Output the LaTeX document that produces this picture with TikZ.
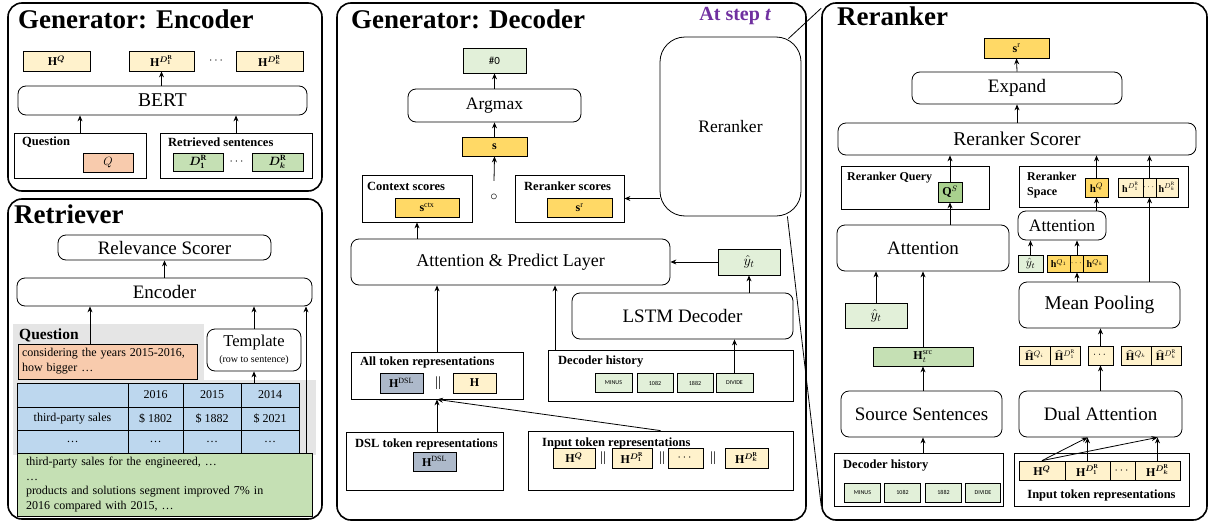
\documentclass[tikz,border=0pt]{standalone}
\usepackage{amsmath}
\usepackage{fontspec}
\usepackage{bm}
\setmainfont{Liberation Serif}
\newfontfamily\tokfont{Carlito}
\usetikzlibrary{arrows.meta,positioning,calc}
\definecolor{lightyellow}{RGB}{255,242,204}
\definecolor{goldcolor}{RGB}{255,217,102}
\definecolor{salmoncolor}{RGB}{248,203,173}
\definecolor{greencolor}{RGB}{197,224,180}
\definecolor{lightgreen}{RGB}{226,240,217}
\definecolor{midgreen}{RGB}{169,209,142}
\definecolor{tablecolor}{RGB}{189,215,238}
\definecolor{dslcolor}{RGB}{173,185,202}
\definecolor{stepcolor}{RGB}{112,48,160}
\newcommand{\fsz}[1]{\fontsize{#1}{#1}\selectfont}
\newcommand{\HQ}{$\mathbf{H}^{\bm{Q}}$}
\newcommand{\HDo}{$\mathbf{H}^{\bm{D}_{\mathbf{1}}^{\mathbf{R}}}$}
\newcommand{\HDk}{$\mathbf{H}^{\bm{D}_{\bm{k}}^{\mathbf{R}}}$}

\begin{document}
\begin{tikzpicture}[x=1pt, y=-1pt,
    panel/.style={draw, line width=1.6pt, rounded corners=14pt, inner sep=0},
    heading/.style={anchor=base west, inner sep=0, font=\bfseries\fsz{27}},
    block/.style={draw, line width=0.8pt, rounded corners=8pt, inner sep=0, fill=white, font=\fsz{19}},
    rbox/.style={draw, line width=0.8pt, inner sep=0, fill=white},
    vec/.style={draw, line width=0.8pt, inner sep=0, minimum height=20pt, font=\fsz{12}},
    lbl/.style={anchor=west, inner sep=0, font=\bfseries\fsz{12.5}},
    tok/.style={draw, line width=0.6pt, fill=lightgreen, inner sep=0, minimum height=19pt, font=\tokfont\fsz{6}},
    cell/.style={draw, line width=0.8pt, fill=tablecolor, inner sep=0, font=\fsz{12}},
    arrow/.style={-{Stealth[length=6pt, width=5pt]}, line width=0.8pt}]

    \useasboundingbox (0,0) rectangle (1210,522);

    % Generator: Encoder
    \node[panel, minimum width=314pt, minimum height=188pt] (encpanel) at (165,97) {};
    \node[heading] (enctitle) at (18,28) {Generator: Encoder};
    \node[vec, fill=lightyellow, minimum width=67pt] (ehq) at (56.5,61) {\HQ};
    \node[vec, fill=lightyellow, minimum width=65pt] (ehd1) at (161.5,61) {\HDo};
    \node[font=\fsz{12}] (edots) at (217,61) {$\cdots$};
    \node[vec, fill=lightyellow, minimum width=67pt] (ehdk) at (269.5,61) {\HDk};
    \node[block, minimum width=289pt, minimum height=29pt, font=\fsz{19.5}] (bert) at (162.5,100.5) {BERT};
    \node[rbox, minimum width=132pt, minimum height=45pt] (equest) at (80,155.5) {};
    \node[lbl] (equestlbl) at (22,142) {Question};
    \node[vec, fill=salmoncolor, minimum width=50pt, minimum height=19pt] (eq) at (108,162.5) {$Q$};
    \node[rbox, minimum width=152pt, minimum height=45pt] (eret) at (236,155.5) {};
    \node[lbl] (eretlbl) at (168,142) {Retrieved sentences};
    \node[vec, fill=greencolor, minimum width=50pt, minimum height=18pt] (ed1) at (198,162) {$\bm{D}_{\mathbf{1}}^{\mathbf{R}}$};
    \node[font=\fsz{12}] (eddots) at (237.5,162) {$\cdots$};
    \node[vec, fill=greencolor, minimum width=51pt, minimum height=18pt] (edk) at (277.5,162) {$\bm{D}_{\bm{k}}^{\mathbf{R}}$};

    \draw[arrow] (equest.north) -- (equest.north |- bert.south);
    \draw[arrow] (eret.north) -- (eret.north |- bert.south);
    \draw[arrow] (ehd1.south |- bert.north) -- (ehd1.south);

    % Retriever
    \node[panel, minimum width=314pt, minimum height=320pt] (retpanel) at (165,359) {};
    \fill[black!10] (13,324) rectangle (204,380);
    \fill[black!10] (13,380) rectangle (316,455);
    \node[heading] (rettitle) at (14,223) {Retriever};
    \node[block, minimum width=213pt, minimum height=25pt] (relev) at (164.5,247.5) {Relevance Scorer};
    \node[block, minimum width=295pt, minimum height=28pt] (renc) at (164.5,292) {Encoder};
    \node[anchor=west, inner sep=0, font=\bfseries\fsz{15.5}] (rqlbl) at (19,335) {Question};
    \node[rbox, fill=salmoncolor, minimum width=179pt, minimum height=35pt, text width=171pt, align=left,
        font=\fontsize{12}{15}\selectfont] (rqtext) at (107.5,361.5) {considering the years 2015-2016,\\how bigger …};
    \node[block, minimum width=94pt, minimum height=42pt, align=center, font=\fsz{16.5}] (templ) at (254,350)
        {Template\\{\fsz{10}(row to sentence)}};

    % table
    \foreach \x/\w/\txt [count=\n] in {72.5/111/{},155.5/55/2016,212/58/2015,270/58/2014}
        \node[cell, minimum width=\w pt, minimum height=24pt] (ta\n) at (\x,395) {\txt};
    \foreach \x/\w/\txt [count=\n] in {72.5/111/third-party sales,155.5/55/\$ 1802,212/58/\$ 1882,270/58/\$ 2021}
        \node[cell, minimum width=\w pt, minimum height=23pt] (tb\n) at (\x,418.5) {\txt};
    \foreach \x/\w [count=\n] in {72.5/111,155.5/55,212/58,270/58}
        \node[cell, minimum width=\w pt, minimum height=24pt] (tc\n) at (\x,442) {…};

    \node[rbox, fill=greencolor, minimum width=295pt, minimum height=63pt, text width=277pt, align=left,
        font=\fontsize{12}{14.6}\selectfont] (rsent) at (164.5,484.5)
        {third-party sales for the engineered, …\\…\\products and solutions segment improved 7\% in\\2016 compared with 2015, …};

    \coordinate (rqx) at (90,0);
    \coordinate (rsx) at (306,0);
    \draw[arrow] (rqtext.north -| rqx) -- (renc.south -| rqx);
    \draw[arrow] (templ.north) -- (templ.north |- renc.south);
    \draw[arrow] (ta4.north -| templ.south) -- (templ.south);
    \draw[arrow] (rsent.north -| rsx) -- (renc.south -| rsx);
    \draw[arrow] (renc.north -| relev.south) -- (relev.south);

    % Generator: Decoder
    \node[panel, minimum width=469pt, minimum height=517pt] (decpanel) at (571.5,261.5) {};
    \node[heading] (dectitle) at (351,28) {Generator: Decoder};
    \node[font=\bfseries\fsz{20}, text=stepcolor, inner sep=0] (atstep) at (735,16) {At step {\itshape t}};
    \node[vec, fill=lightgreen, minimum width=63pt, minimum height=25pt, font=\tokfont\fsz{11}] (out0) at (494.5,60.5) {\#0};
    \node[block, minimum width=173pt, minimum height=33pt, font=\fsz{17.5}] (argmax) at (494.5,105.5) {Argmax};
    \node[vec, fill=goldcolor, minimum width=65pt, minimum height=19pt] (sbox) at (494.5,146.5) {$\mathbf{s}$};
    \node[inner sep=0, minimum height=32pt, font=\fsz{14}] (circ) at (494,197) {$\circ$};
    \node[rbox, minimum width=110pt, minimum height=47pt] (ctx) at (417,198.5) {};
    \node[lbl] (ctxlbl) at (367,186) {Context scores};
    \node[vec, fill=goldcolor, minimum width=64pt, minimum height=19pt] (sctx) at (427,207.5) {$\mathbf{s}^{\mathrm{ctx}}$};
    \node[rbox, minimum width=109pt, minimum height=47pt] (rrs) at (569.5,198.5) {};
    \node[lbl] (rrslbl) at (524,186) {Reranker scores};
    \node[vec, fill=goldcolor, minimum width=65pt, minimum height=19pt] (srr) at (579.5,207.5) {$\mathbf{s}^{\mathrm{r}}$};
    \node[block, rounded corners=25pt, minimum width=141pt, minimum height=179pt, font=\fsz{17.5}] (rrbig) at (730.5,126.5) {Reranker};
    \node[block, minimum width=319pt, minimum height=46pt, font=\fsz{18}] (attpred) at (510.5,262) {Attention \& Predict Layer};
    \node[vec, fill=lightgreen, minimum width=62pt, minimum height=26pt, font=\fsz{14}] (yhat) at (749,262) {$\hat{y}_t$};
    \node[block, minimum width=221pt, minimum height=46pt] (lstm) at (682.5,316) {LSTM Decoder};
    \node[rbox, minimum width=245pt, minimum height=51pt] (dhist) at (670.5,375.5) {};
    \node[lbl] (dhistlbl) at (558,362) {Decoder history};
    \foreach \x/\w/\txt [count=\n] in {613.5/37/MINUS,655/36/1082,695/36/1882,734.5/37/DIVIDE}
        \node[tok, minimum width=\w pt] (dt\n) at (\x,383) {\txt};
    \node[rbox, minimum width=172pt, minimum height=47pt] (alltok) at (437,375.5) {};
    \node[lbl] (alltoklbl) at (360,362) {All token representations};
    \node[vec, fill=dslcolor, minimum width=43pt] (hdsl) at (401.5,383) {$\mathbf{H}^{\mathrm{DSL}}$};
    \node[font=\fsz{14}] (bar1) at (438,383) {||};
    \node[vec, fill=lightyellow, minimum width=43pt] (hall) at (474.5,383) {$\mathbf{H}$};
    \node[rbox, minimum width=157pt, minimum height=58pt] (dsltok) at (424.5,461) {};
    \node[lbl] (dsltoklbl) at (355,444) {DSL token representations};
    \node[vec, fill=dslcolor, minimum width=43pt, minimum height=19pt] (hdsl2) at (434.5,461.5) {$\mathbf{H}^{\mathrm{DSL}}$};
    \node[rbox, minimum width=265pt, minimum height=59pt] (inptok) at (660.5,460.5) {};
    \node[lbl] (inptoklbl) at (542,443) {Input token representations};
    \node[vec, fill=lightyellow, minimum width=42pt] (dhq) at (574,458) {\HQ};
    \node[vec, fill=lightyellow, minimum width=40pt] (dhd1) at (632,458) {\HDo};
    \node[vec, fill=lightyellow, minimum width=35pt] (ddots) at (685.5,458) {$\cdots$};
    \node[vec, fill=lightyellow, minimum width=43pt] (dhdk) at (746.5,458) {\HDk};
    \foreach \x [count=\n] in {603,662,713}
        \node[font=\fsz{14}] (dbar\n) at (\x,458) {||};

    \coordinate (dhx) at (555,0);
    \draw[arrow] (argmax.north) -- (out0.south);
    \draw[arrow] (sbox.north) -- (argmax.south);
    \draw[arrow] (circ.north) -- (sbox.south);
    \draw[arrow] (rrbig.west |- rrs.east) -- (rrs.east);
    \draw[arrow] (ctx.south |- attpred.north) -- (ctx.south);
    \draw[arrow] (yhat.west) -- (attpred.east);
    \draw[arrow] (yhat.south |- lstm.north) -- (yhat.south);
    \draw[arrow] (dt4.north) -- (dt4.north |- lstm.south);
    \draw[arrow] (dhist.north -| dhx) -- (attpred.south -| dhx);
    \draw[arrow] (alltok.north) -- (alltok.north |- attpred.south);
    \draw[arrow] (dsltok.north -| alltok.south) -- (alltok.south);
    \draw[arrow] (inptok.north) -- (alltok.south);

    % Reranker
    \node[panel, minimum width=385pt, minimum height=517pt] (rrpanel) at (1014.5,261.5) {};
    \node[heading] (rrtitle) at (837,25) {Reranker};
    \node[vec, fill=goldcolor, minimum width=65pt, minimum height=20pt] (rsr) at (1016.5,48) {$\mathbf{s}^{\mathrm{r}}$};
    \node[block, minimum width=210pt, minimum height=32pt] (expand) at (1017,88) {Expand};
    \node[block, minimum width=358pt, minimum height=32pt, font=\fsz{19.5}] (scorer) at (1017,139) {Reranker Scorer};
    \node[rbox, minimum width=148pt, minimum height=43pt] (rquery) at (915,187.5) {};
    \node[lbl, font=\bfseries\fsz{12}] (rquerylbl) at (847,178) {Reranker Query};
    \node[vec, fill=midgreen, minimum width=24pt, minimum height=20pt] (qs) at (950,192) {$\mathbf{Q}^{S}$};
    \node[rbox, minimum width=169pt, minimum height=41pt] (rspace) at (1103.5,186.5) {};
    \node[lbl, font=\bfseries\fontsize{12}{15}\selectfont, align=left] (rspacelbl) at (1027,185) {Reranker\\Space};
    \node[vec, fill=goldcolor, minimum width=23pt, minimum height=19pt, font=\fsz{11}] (hqs) at (1096.5,187.5) {$\mathbf{h}^{Q}$};
    \node[vec, fill=lightyellow, minimum width=25pt, minimum height=19pt, font=\fsz{10}] (hs1) at (1130.5,187.5) {$\mathbf{h}^{D_1^{\mathrm{R}}}$};
    \node[vec, fill=lightyellow, minimum width=13pt, minimum height=19pt, font=\fsz{9}] (hs2) at (1149.5,187.5) {$\cdots$};
    \node[vec, fill=lightyellow, minimum width=22pt, minimum height=19pt, font=\fsz{10}] (hs3) at (1167,187.5) {$\mathbf{h}^{D_k^{\mathrm{R}}}$};
    \node[block, minimum width=88pt, minimum height=29pt, font=\fsz{17.5}] (att2) at (1062,225.5) {Attention};
    \node[vec, fill=lightgreen, minimum width=25pt, minimum height=17pt, font=\fsz{12}] (yhat2) at (1030.5,263.5) {$\hat{y}_t$};
    \node[vec, fill=goldcolor, minimum width=24pt, minimum height=17pt, font=\fsz{10}] (hq1) at (1059,263.5) {$\mathbf{h}^{Q_1}$};
    \node[vec, fill=goldcolor, minimum width=12pt, minimum height=17pt, font=\fsz{9}] (hq2) at (1077,263.5) {$\cdots$};
    \node[vec, fill=goldcolor, minimum width=24pt, minimum height=17pt, font=\fsz{10}] (hq3) at (1095,263.5) {$\mathbf{h}^{Q_k}$};
    \node[block, minimum width=161pt, minimum height=46pt, font=\fsz{19.5}] (mpool) at (1099.5,305) {Mean Pooling};
    \node[block, minimum width=172pt, minimum height=46pt] (att1) at (923,248) {Attention};
    \node[vec, fill=lightgreen, minimum width=62pt, minimum height=25pt, font=\fsz{14}] (yhat3) at (876,315.5) {$\hat{y}_t$};
    \node[vec, fill=greencolor, minimum width=100pt, minimum height=19pt] (hsrc) at (923,356.5) {$\mathbf{H}_t^{\mathrm{src}}$};
    \foreach \x/\w/\txt [count=\n] in {1034.5/31/{$\widehat{\mathbf{H}}^{Q_i}$},1065/30/{$\widehat{\mathbf{H}}^{D_1^{\mathrm{R}}}$},
            1100.5/25/{$\cdots$},1136/30/{$\widehat{\mathbf{H}}^{Q_k}$},1166/30/{$\widehat{\mathbf{H}}^{D_k^{\mathrm{R}}}$}}
        \node[vec, fill=lightyellow, minimum width=\w pt, minimum height=19pt, font=\fsz{11}] (hh\n) at (\x,355.5) {\txt};
    \node[block, minimum width=161pt, minimum height=46pt] (srcsent) at (921.5,414) {Source Sentences};
    \node[block, minimum width=163pt, minimum height=46pt] (dualatt) at (1100.5,414) {Dual Attention};
    \node[rbox, minimum width=169pt, minimum height=53pt] (dhist2) at (918.5,479.5) {};
    \node[lbl] (dhist2lbl) at (843,466) {Decoder history};
    \foreach \x/\w/\txt [count=\n] in {862.5/36/MINUS,902.5/36/1082,943.5/36/1882,983/35/DIVIDE}
        \node[tok, minimum width=\w pt] (rt\n) at (\x,492.5) {\txt};
    \node[rbox, minimum width=175pt, minimum height=53pt] (inptok2) at (1101.5,479.5) {};
    \foreach \x/\w/\txt [count=\n] in {1042/46/\HQ,1087.5/45/\HDo,1122.5/25/{$\cdots$},1157.5/45/\HDk}
        \node[vec, fill=lightyellow, minimum width=\w pt, minimum height=19pt] (ri\n) at (\x,470.5) {\txt};
    \node[font=\bfseries\fsz{12.5}, inner sep=0] (inptok2lbl) at (1101.5,495) {Input token representations};

    \draw[arrow] (expand.north) -- (rsr.south);
    \draw[arrow] (scorer.north) -- (expand.south);
    \draw[arrow] (qs.north) -- (qs.north |- scorer.south);
    \draw[arrow] (hqs.north) -- (hqs.north |- scorer.south);
    \draw[arrow] (hs2.north) -- (hs2.north |- scorer.south);
    \draw[arrow] (qs.south |- att1.north) -- (qs.south);
    \draw[arrow] (yhat3.north) -- (yhat3.north |- att1.south);
    \draw[arrow] (hsrc.north) -- (hsrc.north |- att1.south);
    \draw[arrow] (srcsent.north -| hsrc) -- (hsrc.south);
    \draw[arrow] (dhist2.north -| hsrc) -- (srcsent.south -| hsrc);
    \draw[arrow] (hqs.south |- att2.north) -- (hqs.south);
    \draw[arrow] (yhat2.north) -- (yhat2.north |- att2.south);
    \draw[arrow] (hq2.north) -- (hq2.north |- att2.south);
    \draw[arrow] (hq2.south |- mpool.north) -- (hq2.south);
    \draw[arrow] (hs2.south |- mpool.north) -- (hs2.south);
    \draw[arrow] (hh3.south |- dualatt.north) -- (hh3.south);
    \draw[arrow] (hh3.north) -- (hh3.north |- mpool.south);
    \draw[arrow] (ri1.north) -- (ri2.north |- dualatt.south);
    \draw[arrow] (ri1.north) -- (ri4.north |- dualatt.south);
    \draw[arrow] (ri2.north) -- (ri2.north |- dualatt.south);
    \draw[arrow] (ri4.north) -- (ri4.north |- dualatt.south);

    % zoom lines
    \draw[line width=0.8pt] ([shift={(-13pt,-2pt)}]rrbig.north east) -- ([yshift=-6pt]rrpanel.north west);
    \draw[line width=0.8pt] ([xshift=-14pt]rrbig.south east) -- ([yshift=15pt]rrpanel.south west);

\end{tikzpicture}
\end{document}
